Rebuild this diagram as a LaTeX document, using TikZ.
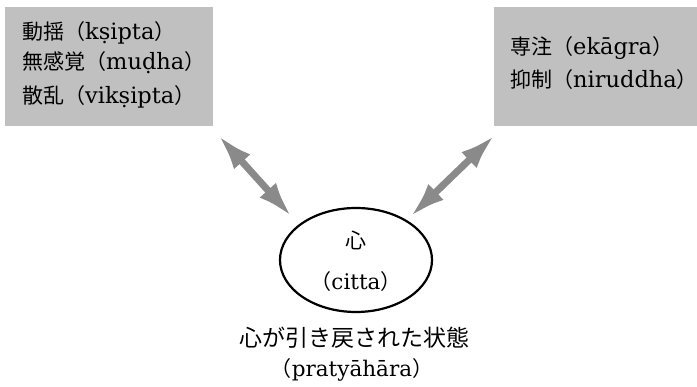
\documentclass[tikz,border=0pt]{standalone}
\usepackage{fontspec}
\setmainfont{DejaVu Serif}
\newfontfamily\cjk{Noto Sans CJK JP}
\usetikzlibrary{arrows.meta,shapes.geometric}
\definecolor{boxgray}{HTML}{C0C0C0}
\definecolor{arrgray}{HTML}{8A8A8A}
\newcommand\jp[1]{{\cjk\fontsize{21}{24}\selectfont #1}}
\newcommand\jpbig[1]{{\cjk\fontsize{23}{26}\selectfont #1}}
\begin{document}
\begin{tikzpicture}[x=1pt,y=-1pt]
\tikzset{
  grayboxnode/.style={fill=boxgray, draw=none, inner sep=0pt, anchor=north west},
  lab/.style={anchor=west, inner sep=0pt, font=\fontsize{22.5}{26}\selectfont},
  ctext/.style={inner sep=0pt, font=\fontsize{21.5}{24}\selectfont},
  dblarrow/.style={draw=arrgray, line width=7pt, {Latex[length=36pt,width=22pt]}-{Latex[length=36pt,width=22pt]}},
}
\useasboundingbox (0,0) rectangle (697,387);
% boxes
\node[grayboxnode, minimum width=208pt, minimum height=119pt] (lbox) at (5,7) {};
\node[grayboxnode, minimum width=203pt, minimum height=119pt] (rbox) at (494,7) {};
% left box texts
\node[lab] (l1) at (22,33) {\jp{動揺（}kṣipta\jp{）}};
\node[lab] (l2) at (22,63) {\jp{無感覚（}muḍha\jp{）}};
\node[lab] (l3) at (22,97) {\jp{散乱（}vikṣipta\jp{）}};
% right box texts
\node[lab] (r1) at (510,48) {\jp{専注（}ekāgra\jp{）}};
\node[lab] (r2) at (510,80) {\jp{抑制（}niruddha\jp{）}};
% ellipse
\node[draw, ellipse, line width=2.2pt, minimum width=152pt, minimum height=104pt, inner sep=0pt] (mind) at (356,260) {};
\node[ctext] (c1) at (356,240) {\jp{心}};
\node[ctext] (c2) at (356,282) {\jp{（}citta\jp{）}};
% bottom texts
\node[ctext] (b1) at (354,338) {\jpbig{心が引き戻された状態}};
\node[ctext] (b2) at (352,370) {\jp{（}pratyāhāra\jp{）}};
% arrows
\coordinate (la1) at (218,135);
\coordinate (la2) at (292,217);
\coordinate (ra1) at (495,135);
\coordinate (ra2) at (410,217);
\draw[dblarrow] (la1) -- (la2);
\draw[dblarrow] (ra1) -- (ra2);
\end{tikzpicture}
\end{document}
